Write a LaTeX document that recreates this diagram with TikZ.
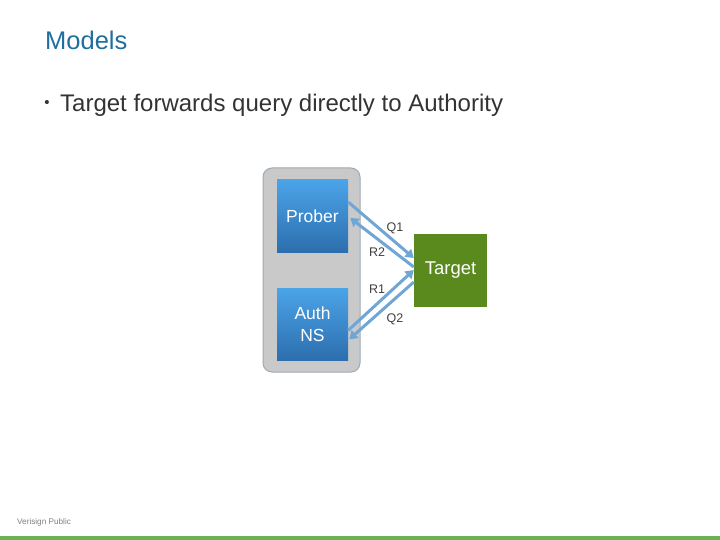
\documentclass[tikz,border=0pt]{standalone}
\usepackage{fontspec}
\setmainfont{Liberation Sans}
\usepackage{tikz}
\usetikzlibrary{arrows.meta, positioning, calc}
\definecolor{titleblue}{HTML}{1F6E9E}
\definecolor{textgray}{HTML}{333333}
\definecolor{labelgray}{HTML}{404040}
\definecolor{footgray}{HTML}{7F7F7F}
\definecolor{boxtop}{HTML}{4BA4E8}
\definecolor{boxbot}{HTML}{2C6EAE}
\definecolor{hostfill}{HTML}{C9C9C9}
\definecolor{hostline}{HTML}{9DABB8}
\definecolor{targetgreen}{HTML}{5A8A1E}
\definecolor{arrowblue}{HTML}{6FA6D6}
\definecolor{bargreen}{HTML}{6CB154}

\begin{document}
\begin{tikzpicture}[x=1pt, y=-1pt,
        box/.style={rectangle, minimum width=71pt, minimum height=72pt, inner sep=0pt, top color=boxtop, bottom color=boxbot, text=white, align=center, font=\fontsize{17.5}{22}\selectfont},
        msg/.style={draw=arrowblue, line width=3pt, -{Triangle[length=8pt, width=10pt]}},
        lbl/.style={inner sep=0pt, text=labelgray, font=\fontsize{12.5}{14}\selectfont}]
        \useasboundingbox (0,0) rectangle (720,540);
        % heading and bullet
        \node[anchor=base west, inner sep=0pt, text=titleblue, font=\fontsize{25.5}{30}\selectfont] (title) at (45,50) {Models};
        \node[inner sep=0pt, text=textgray, font=\fontsize{15}{16}\selectfont] (dot) at (47,104) {\textbullet};
        \node[anchor=base west, inner sep=0pt, text=textgray, font=\fontsize{24}{28}\selectfont] (point) at (60,112) {Target forwards query directly to Authority};
        
        % prober host with the two boxes
        \node[rectangle, rounded corners=9pt, draw=hostline, line width=1pt, fill=hostfill, minimum width=97pt, minimum height=204pt] (host) at (311.5,270) {};
        \node[box] (prober) at (312.5,216) {Prober};
        \node[box] (auth_ns) [below = 36pt of prober] {Auth\\NS};
        
        \node[rectangle, fill=targetgreen, minimum width=73pt, minimum height=73pt, inner sep=0pt, text=white, font=\fontsize{18.5}{20}\selectfont] (target) at (450.5,270) {Target};
        
        \draw[msg] ($(prober.east)+(0,-14)$) -- ($(target.west)+(0,-12)$);
        \draw[msg] ($(target.west)+(0,-3)$) -- ($(prober.east)+(2,2)$);
        \draw[msg] ($(auth_ns.east)+(0,6)$) -- (target.west);
        \draw[msg] ($(target.west)+(0,12)$) -- ($(auth_ns.east)+(1,15)$);
        
        \node[lbl] (q1) at (395,228) {Q1};
        \node[lbl] (r2) at (377,252) {R2};
        \node[lbl] (r1) at (377,289) {R1};
        \node[lbl] (q2) at (395,319) {Q2};
        
        % footer
        \node[anchor=west, inner sep=0pt, text=footgray, font=\fontsize{8.2}{9}\selectfont] (footer) at (17,522) {Verisign Public};
        \fill[bargreen] (0,536) rectangle (720,540);
    \end{tikzpicture}
\end{document}
